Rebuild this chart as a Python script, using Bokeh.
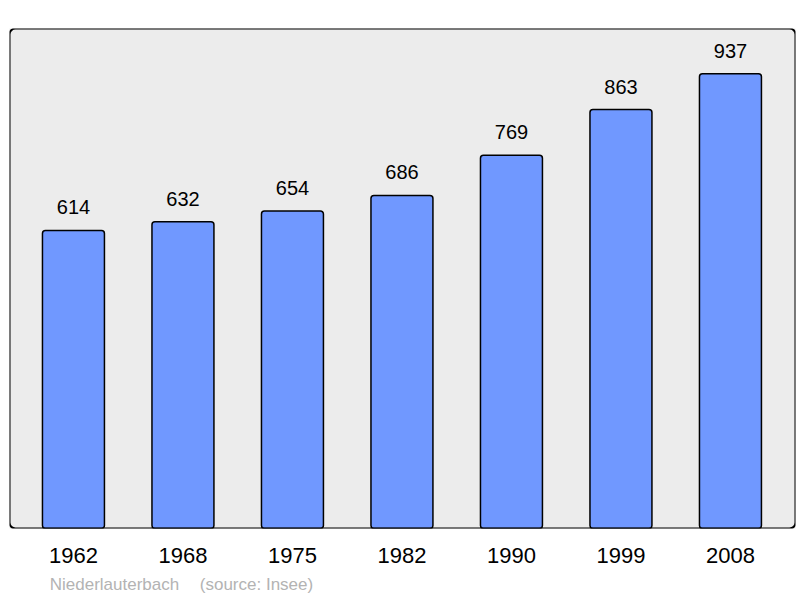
from bokeh.plotting import figure
from bokeh.models import ColumnDataSource, Range1d, FixedTicker, BoxAnnotation, LinearAxis
from bokeh.core.properties import value
from bokeh.embed import file_html
from bokeh.resources import INLINE

years = ["1962", "1968", "1975", "1982", "1990", "1999", "2008"]
population = [614, 632, 654, 686, 769, 863, 937]
note_texts = ["Niederlauterbach", "(source: Insee)"]
note_centers = [105, 247]  # horizontal centres of the note texts, in frame pixels

xs = list(range(len(years)))
src = ColumnDataSource(dict(x=xs, top=population, label=[str(v) for v in population]))

p = figure(width=796, height=596, output_backend="svg", toolbar_location=None,
           x_range=Range1d(-0.584, 6.594), y_range=Range1d(0, 1030),
           y_axis_location=None, min_border_left=9, min_border_right=1,
           min_border_top=28, min_border_bottom=68)
p.background_fill_color = "#ececec"
p.border_fill_color = "white"
p.outline_line_color = None
p.grid.visible = False
p.extra_x_ranges = {"note": Range1d(0, 786)}

p.vbar(x="x", top="top", bottom=0, width=0.566, source=src,
       fill_color="#7098ff", line_color="black", line_width=1.5, border_radius=3)
p.text(x="x", y="top", text="label", source=src, text_align="center",
       text_baseline="alphabetic", y_offset=-23, text_font_size="20px",
       text_font=value("Liberation Sans"), text_color="black")

frame = BoxAnnotation(fill_alpha=0, line_color="black", line_alpha=1.0,
                      line_width=2, border_radius=6)
p.add_layout(frame)

ax = p.xaxis[0]
ax.ticker = FixedTicker(ticks=xs)
ax.major_label_overrides = {i: y for i, y in enumerate(years)}
ax.axis_line_color = None
ax.major_tick_line_color = None
ax.minor_tick_line_color = None
ax.major_tick_out = 0
ax.major_label_standoff = 19
ax.major_label_text_font_size = "22px"
ax.major_label_text_font = "Liberation Sans"
ax.major_label_text_color = "black"

note_axis = LinearAxis(x_range_name="note", ticker=FixedTicker(ticks=note_centers),
                       major_label_overrides={c: t for c, t in zip(note_centers, note_texts)},
                       axis_line_color=None, major_tick_line_color=None,
                       minor_tick_line_color=None, major_tick_out=0, major_tick_in=0,
                       major_label_standoff=9, major_label_text_font_size="17px",
                       major_label_text_font="Liberation Sans",
                       major_label_text_color="#b3b3b3")
p.add_layout(note_axis, "below")

open("out.html", "w").write(file_html(p, INLINE))
